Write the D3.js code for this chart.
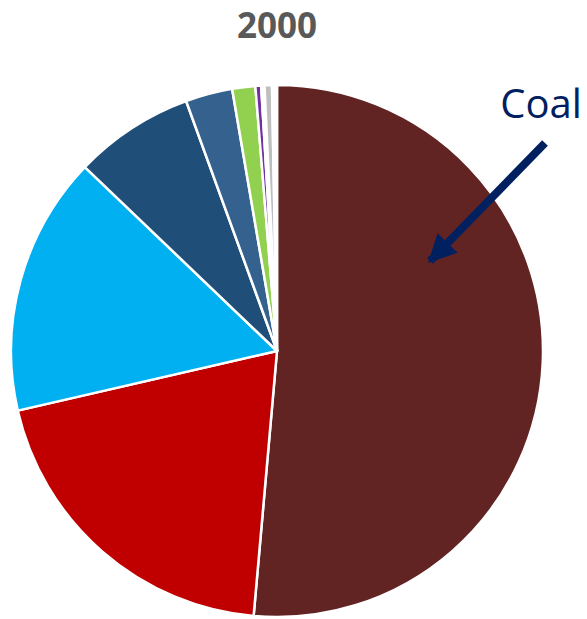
<!DOCTYPE html>
<html>
<head>
<meta charset="utf-8">
<script src="https://cdn.jsdelivr.net/npm/d3@7"></script>
<style>
  html, body { margin: 0; padding: 0; background: #ffffff; }
  svg { display: block; }
</style>
</head>
<body>
<svg id="chart" width="587" height="619"></svg>
<script>
// ---- data ----
const title = "2000";
const categories = ["Coal", "Nuclear", "Natural Gas", "Hydro", "Petroleum", "Biomass", "Geothermal", "Other Gases", "Other", "Wind/Solar"];
const shares = [51.4, 20.0, 15.75, 7.3, 2.85, 1.4, 0.35, 0.2, 0.45, 0.3];
const colors = ["#622423", "#C00000", "#00B0F0", "#1F4E79", "#35618F", "#92D050", "#7030A0", "#FFFFFF", "#BFBFBF", "#FFFFFF"];
const annotationLabel = "Coal";

// ---- layout ----
const W = 587, H = 619;
const cx = 277, cy = 351, R = 266;

const svg = d3.select("#chart");

const data = categories.map((c, i) => ({ name: c, value: shares[i], color: colors[i] }));

const pie = d3.pie().sort(null).value(d => d.value).startAngle(0).endAngle(2 * Math.PI);
const arc = d3.arc().innerRadius(0).outerRadius(R);

const g = svg.append("g").attr("transform", `translate(${cx},${cy})`);
g.selectAll("path.slice")
  .data(pie(data))
  .join("path")
  .attr("class", "slice")
  .attr("d", arc)
  .attr("fill", d => d.data.color)
  .attr("stroke", "#ffffff")
  .attr("stroke-width", 2.5)
  .attr("stroke-linejoin", "round");

// title
svg.append("text")
  .attr("x", 277)
  .attr("y", 38)
  .attr("text-anchor", "middle")
  .attr("font-family", "'Open Sans', 'Noto Sans', sans-serif")
  .attr("font-weight", "bold")
  .attr("font-size", 35)
  .attr("fill", "#595959")
  .text(title);

// annotation label
svg.append("text")
  .attr("x", 541)
  .attr("y", 118)
  .attr("text-anchor", "middle")
  .attr("font-family", "'Open Sans', 'Noto Sans', sans-serif")
  .attr("font-size", 40)
  .attr("fill", "#002060")
  .text(annotationLabel);

// arrow
const defs = svg.append("defs");
defs.append("marker")
  .attr("id", "arrowhead")
  .attr("viewBox", "0 0 10 10")
  .attr("refX", 9)
  .attr("refY", 5)
  .attr("markerUnits", "userSpaceOnUse")
  .attr("markerWidth", 30)
  .attr("markerHeight", 28)
  .attr("orient", "auto")
  .append("path")
  .attr("d", "M0,0 L10,5 L0,10 Z")
  .attr("fill", "#002060");

svg.append("line")
  .attr("x1", 545)
  .attr("y1", 143)
  .attr("x2", 430)
  .attr("y2", 261)
  .attr("stroke", "#002060")
  .attr("stroke-width", 8)
  .attr("marker-end", "url(#arrowhead)");
</script>
</body>
</html>
